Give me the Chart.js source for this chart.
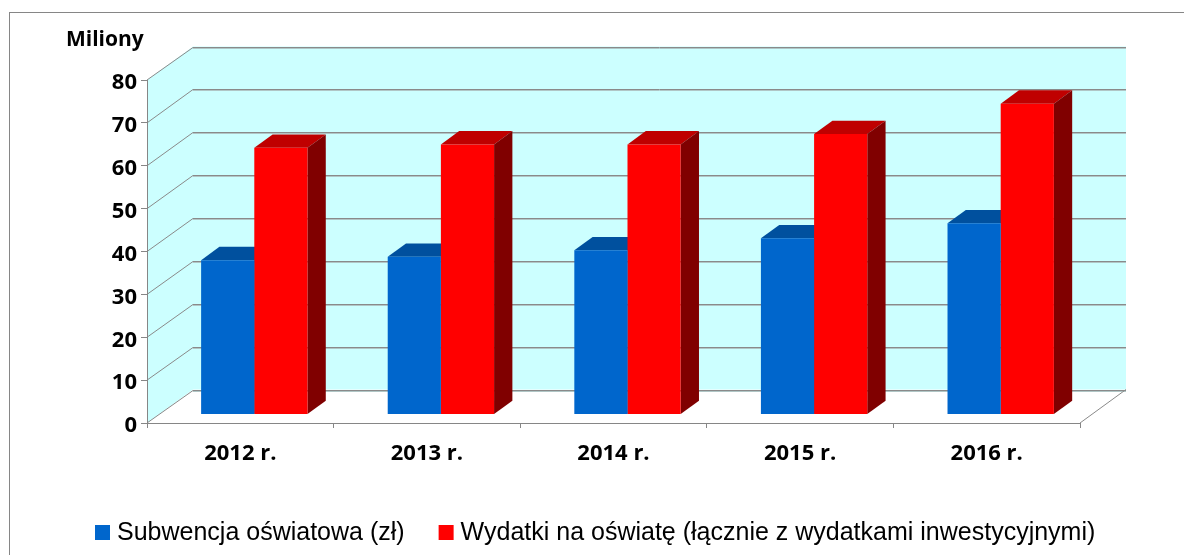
<!DOCTYPE html>
<html lang="pl">
<head>
<meta charset="UTF-8">
<title>Subwencja i wydatki na oświatę</title>
<script src="https://cdn.jsdelivr.net/npm/chart.js"></script>
<style>
  html, body { margin: 0; padding: 0; background: #fff; }
  #wrap { width: 1184px; height: 555px; }
</style>
</head>
<body>
<div id="wrap"><canvas id="chart" width="1184" height="555"></canvas></div>
<script>
// dane (mln zł)
const years = ['2012 r.', '2013 r.', '2014 r.', '2015 r.', '2016 r.'];
const subwencja = [36.0, 36.8, 38.3, 41.1, 44.6];
const wydatki = [62.2, 63.0, 63.0, 65.4, 72.5];
const yTicks = [0, 10, 20, 30, 40, 50, 60, 70, 80];
const seriesNames = ['Subwencja oświatowa (zł)', 'Wydatki na oświatę (łącznie z wydatkami inwestycyjnymi)'];

// "3D" - przesunięcia w głąb
const DX = 46, DY = 33.5;     // ściana tylna
const BX = 14, BY = 8.5;      // płaszczyzna przednia słupków
const SX = 18.3, SY = 13.3;   // głębokość słupka

const threeD = {
  id: 'threeD',
  beforeDraw(chart) {
    const { ctx: c, chartArea: a, scales: { y } } = chart;
    c.save();
    c.fillStyle = '#fff';
    c.fillRect(0, 0, chart.width, chart.height);
    c.strokeStyle = '#868686';
    c.lineWidth = 1;
    c.strokeRect(9.5, 12.5, chart.width + 20, chart.height + 20);

    // ściany
    c.fillStyle = '#CCFFFF';
    c.fillRect(a.left + DX, a.top - DY, a.right - a.left, a.bottom - a.top);
    c.beginPath();
    c.moveTo(a.left, a.top);
    c.lineTo(a.left + DX, a.top - DY);
    c.lineTo(a.left + DX, a.bottom - DY);
    c.lineTo(a.left, a.bottom);
    c.closePath();
    c.fill();

    // linie siatki
    yTicks.forEach(v => {
      const py = y.getPixelForValue(v);
      const by = Math.round(py - DY) + 0.5;
      c.strokeStyle = '#b0c6c6';
      c.beginPath();
      c.moveTo(a.left + DX, by + 1);
      c.lineTo(a.right + DX, by + 1);
      c.stroke();
      c.strokeStyle = '#8a8a8a';
      c.beginPath();
      c.moveTo(a.left, py);
      c.lineTo(a.left + DX, by);
      c.lineTo(a.right + DX, by);
      c.stroke();
    });
    // prawa krawędź podłogi
    c.beginPath();
    c.moveTo(a.right, a.bottom);
    c.lineTo(a.right + DX, a.bottom - DY);
    c.stroke();
    c.restore();
  },
  beforeDatasetsDraw(chart) {
    const c = chart.ctx;
    c.save();
    c.translate(BX, -BY);
    chart.data.datasets.forEach((ds, i) => {
      chart.getDatasetMeta(i).data.forEach(bar => {
        const l = bar.x - bar.width / 2, r = bar.x + bar.width / 2;
        const t = bar.y, b = bar.base;
        c.fillStyle = ds.topColor;
        c.beginPath();
        c.moveTo(l, t);
        c.lineTo(l + SX, t - SY);
        c.lineTo(r + SX, t - SY);
        c.lineTo(r, t);
        c.closePath();
        c.fill();
        c.fillStyle = ds.sideColor;
        c.beginPath();
        c.moveTo(r, t);
        c.lineTo(r + SX, t - SY);
        c.lineTo(r + SX, b - SY);
        c.lineTo(r, b);
        c.closePath();
        c.fill();
      });
    });
  },
  afterDatasetsDraw(chart) {
    chart.ctx.restore();
  },
  afterDraw(chart) {
    const c = chart.ctx;
    c.save();
    c.fillStyle = '#000';
    c.textBaseline = 'alphabetic';
    c.font = 'bold 21px "Open Sans"';
    c.fillText('Miliony', 66, 46);

    // legenda
    c.font = '25px "Liberation Sans", Arial, sans-serif';
    let x = 95;
    chart.data.datasets.forEach(ds => {
      c.fillStyle = ds.backgroundColor;
      c.fillRect(x, 525, 15, 15);
      c.fillStyle = '#000';
      c.fillText(ds.label, x + 22, 540);
      x += 22 + c.measureText(ds.label).width + 34;
    });
    c.restore();
  }
};

const tickFont = { family: 'Open Sans', weight: 'bold', size: 22 };

new Chart(document.getElementById('chart'), {
  type: 'bar',
  data: {
    labels: years,
    datasets: [
      { label: seriesNames[0], data: subwencja, backgroundColor: '#0066CC', topColor: '#00509E', sideColor: '#003F7F' },
      { label: seriesNames[1], data: wydatki, backgroundColor: '#FF0000', topColor: '#BF0000', sideColor: '#800000' }
    ]
  },
  options: {
    responsive: false,
    animation: false,
    layout: { padding: { top: 80, right: 104, bottom: 0, left: 0 } },
    datasets: { bar: { categoryPercentage: 0.57, barPercentage: 1 } },
    plugins: { legend: { display: false }, tooltip: { enabled: false } },
    scales: {
      x: {
        grid: { drawOnChartArea: false, color: '#868686', tickLength: 5 },
        border: { color: '#868686' },
        ticks: { font: tickFont, color: '#000', padding: 13 },
        afterFit: s => { s.height = 132; }
      },
      y: {
        min: 0,
        max: 80,
        grid: { drawOnChartArea: false, color: '#868686', tickLength: 6 },
        border: { color: '#868686' },
        ticks: { stepSize: 10, font: tickFont, color: '#000', padding: 4, labelOffset: 3 },
        afterFit: s => { s.width = 147; }
      }
    }
  },
  plugins: [threeD]
});
</script>
</body>
</html>
